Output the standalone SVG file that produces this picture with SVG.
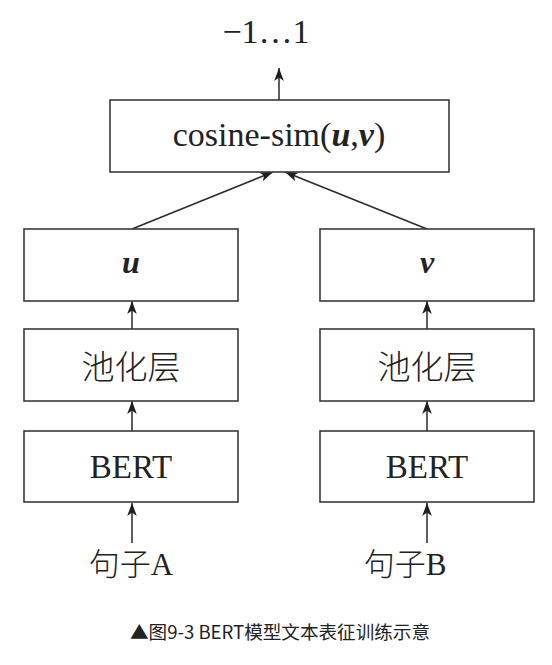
<svg xmlns="http://www.w3.org/2000/svg" width="552" height="665" viewBox="0 0 552 665">
<defs>
<style>
.box{fill:#fff;stroke:#3a3a3a;stroke-width:1.6}
.ln{fill:none;stroke:#2a2a2a;stroke-width:1.5}
.t{font-family:"Liberation Serif","Noto Sans CJK SC",serif;fill:#222;text-anchor:middle}
.cjk{font-family:"Noto Sans CJK SC",sans-serif;font-weight:300;fill:#222;text-anchor:middle}
.bi{font-weight:bold;font-style:italic}
</style>
<marker id="ah" markerWidth="14" markerHeight="12" refX="0" refY="0" viewBox="-14 -6 14 12" orient="auto" markerUnits="userSpaceOnUse">
<path d="M0,0 L-13,-4.8 L-9.5,0 L-13,4.8 Z" fill="#1e1e1e"/>
</marker>
</defs>
<rect width="552" height="665" fill="#fff"/>
<g id="connectors">
<line class="ln" x1="279" y1="100" x2="279" y2="68" marker-end="url(#ah)"/>
<line class="ln" x1="132" y1="229" x2="273" y2="172" marker-end="url(#ah)"/>
<line class="ln" x1="427" y1="229" x2="285" y2="172" marker-end="url(#ah)"/>
<line class="ln" x1="132" y1="329" x2="132" y2="301" marker-end="url(#ah)"/>
<line class="ln" x1="132" y1="431" x2="132" y2="401" marker-end="url(#ah)"/>
<line class="ln" x1="132" y1="543" x2="132" y2="503" marker-end="url(#ah)"/>
<line class="ln" x1="427" y1="329" x2="427" y2="301" marker-end="url(#ah)"/>
<line class="ln" x1="427" y1="431" x2="427" y2="401" marker-end="url(#ah)"/>
<line class="ln" x1="427" y1="543" x2="427" y2="503" marker-end="url(#ah)"/>
</g>
<g id="output"><text class="t" x="266" y="43" font-size="34">−1…1</text></g>
<g id="cosine"><rect class="box" x="110" y="100" width="339" height="72"/>
<text class="t" x="279" y="146" font-size="34">cosine-sim(<tspan class="bi">u</tspan>,<tspan class="bi">v</tspan>)</text></g>
<g id="u"><rect class="box" x="24" y="229" width="214" height="72"/><text class="t bi" x="131" y="273" font-size="32">u</text></g>
<g id="v"><rect class="box" x="320" y="229" width="214" height="72"/><text class="t bi" x="427" y="273" font-size="32">v</text></g>
<g id="poolA"><rect class="box" x="24" y="329" width="214" height="72"/><text class="cjk" x="131" y="379" font-size="33">池化层</text></g>
<g id="poolB"><rect class="box" x="320" y="329" width="214" height="72"/><text class="cjk" x="427" y="379" font-size="33">池化层</text></g>
<g id="bertA"><rect class="box" x="24" y="431" width="214" height="71"/><text class="t" x="131" y="478" font-size="33">BERT</text></g>
<g id="bertB"><rect class="box" x="320" y="431" width="214" height="71"/><text class="t" x="427" y="478" font-size="33">BERT</text></g>
<g id="sentA"><text class="t" x="131" y="575" font-size="31"><tspan font-family="Noto Sans CJK SC" font-weight="300">句子</tspan>A</text></g>
<g id="sentB"><text class="t" x="405" y="575" font-size="31"><tspan font-family="Noto Sans CJK SC" font-weight="300">句子</tspan>B</text></g>
<g id="caption"><text x="130" y="639" font-size="18" font-family="'Noto Sans CJK SC',sans-serif" fill="#222" textLength="300" lengthAdjust="spacingAndGlyphs">▲图9-3 BERT模型文本表征训练示意</text></g>
</svg>
